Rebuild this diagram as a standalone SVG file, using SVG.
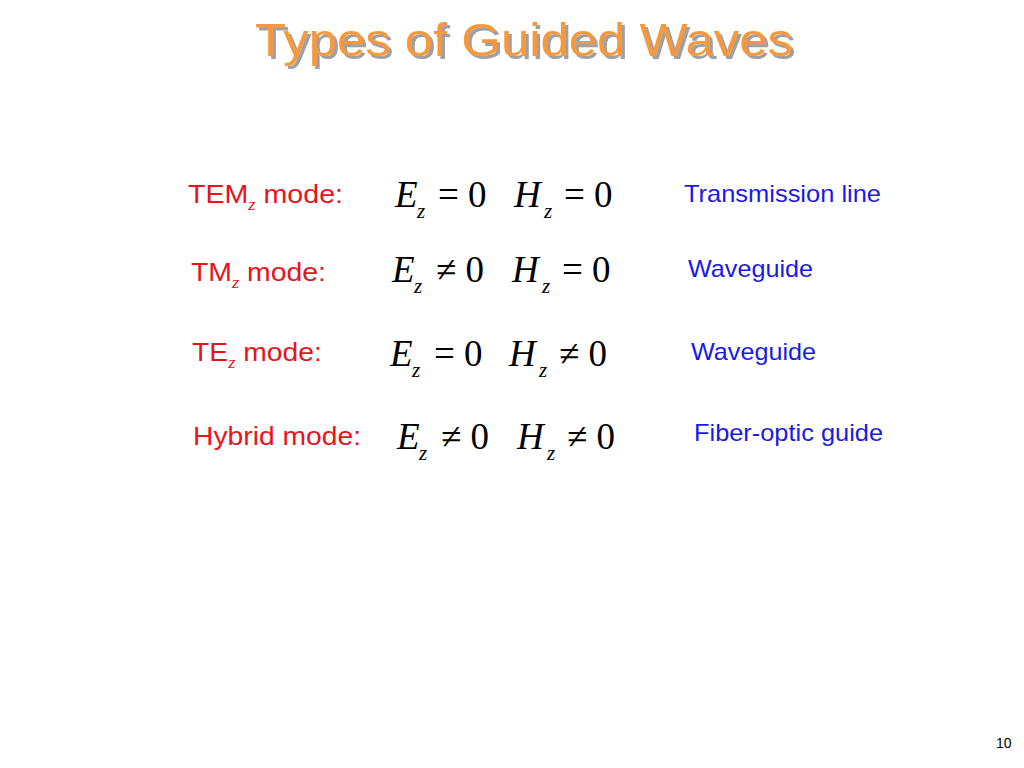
<svg xmlns="http://www.w3.org/2000/svg" width="1024" height="768" viewBox="0 0 1024 768">
<defs>
<filter id="sh" x="-5%" y="-20%" width="110%" height="150%"><feDropShadow dx="3" dy="3" stdDeviation="0.6" flood-color="#a0a0a0"/></filter>
</defs>
<style>
.lab{font-family:"Liberation Sans",Arial,sans-serif;font-size:26px;fill:#e8141b}
.sub{font-family:"Liberation Serif",serif;font-style:italic;font-size:17px}
.eq{font-family:"Liberation Serif",serif;font-size:37px;fill:#000}
.v{font-style:italic}
.z{font-family:"Liberation Serif",serif;font-style:italic;font-size:21px;fill:#000}
.blue{font-family:"Liberation Sans",Arial,sans-serif;font-size:24px;fill:#1a1ae6}
.title{font-family:"Liberation Sans",Arial,sans-serif;font-size:46px}
</style>
<rect width="1024" height="768" fill="#fff"/>
<g id="title">
<text class="title" x="255" y="56" fill="#f7993b" filter="url(#sh)" textLength="538" lengthAdjust="spacingAndGlyphs">Types of Guided Waves</text>
</g>
<g id="row1">
<text class="lab" x="188" y="203" textLength="155" lengthAdjust="spacingAndGlyphs">TEM<tspan class="sub" dy="7">z</tspan><tspan dy="-7"> mode:</tspan></text>
<text class="eq v" x="395" y="207">E</text><text class="z" x="417" y="218">z</text><text class="eq" x="438" y="207">= 0</text>
<text class="eq v" x="514" y="207">H</text><text class="z" x="544" y="218">z</text><text class="eq" x="564" y="207">= 0</text>
<text class="blue" x="684" y="202" textLength="197" lengthAdjust="spacingAndGlyphs">Transmission line</text>
</g>
<g id="row2">
<text class="lab" x="191" y="281" textLength="135" lengthAdjust="spacingAndGlyphs">TM<tspan class="sub" dy="7">z</tspan><tspan dy="-7"> mode:</tspan></text>
<text class="eq v" x="392" y="282">E</text><text class="z" x="414" y="293">z</text><text class="eq" x="436" y="282">≠ 0</text>
<text class="eq v" x="512" y="282">H</text><text class="z" x="542" y="293">z</text><text class="eq" x="562" y="282">= 0</text>
<text class="blue" x="688" y="277" textLength="125" lengthAdjust="spacingAndGlyphs">Waveguide</text>
</g>
<g id="row3">
<text class="lab" x="192" y="361" textLength="130" lengthAdjust="spacingAndGlyphs">TE<tspan class="sub" dy="7">z</tspan><tspan dy="-7"> mode:</tspan></text>
<text class="eq v" x="390" y="366">E</text><text class="z" x="412" y="377">z</text><text class="eq" x="434" y="366">= 0</text>
<text class="eq v" x="509" y="366">H</text><text class="z" x="539" y="377">z</text><text class="eq" x="559" y="366">≠ 0</text>
<text class="blue" x="691" y="360" textLength="125" lengthAdjust="spacingAndGlyphs">Waveguide</text>
</g>
<g id="row4">
<text class="lab" x="193" y="445" textLength="168" lengthAdjust="spacingAndGlyphs">Hybrid mode:</text>
<text class="eq v" x="397" y="449">E</text><text class="z" x="419" y="460">z</text><text class="eq" x="441" y="449">≠ 0</text>
<text class="eq v" x="517" y="449">H</text><text class="z" x="547" y="460">z</text><text class="eq" x="567" y="449">≠ 0</text>
<text class="blue" x="694" y="441" textLength="189" lengthAdjust="spacingAndGlyphs">Fiber-optic guide</text>
</g>
<g id="connectors"/>
<text x="996" y="748" font-family="Liberation Sans,Arial,sans-serif" font-size="14" fill="#000">10</text>
</svg>
